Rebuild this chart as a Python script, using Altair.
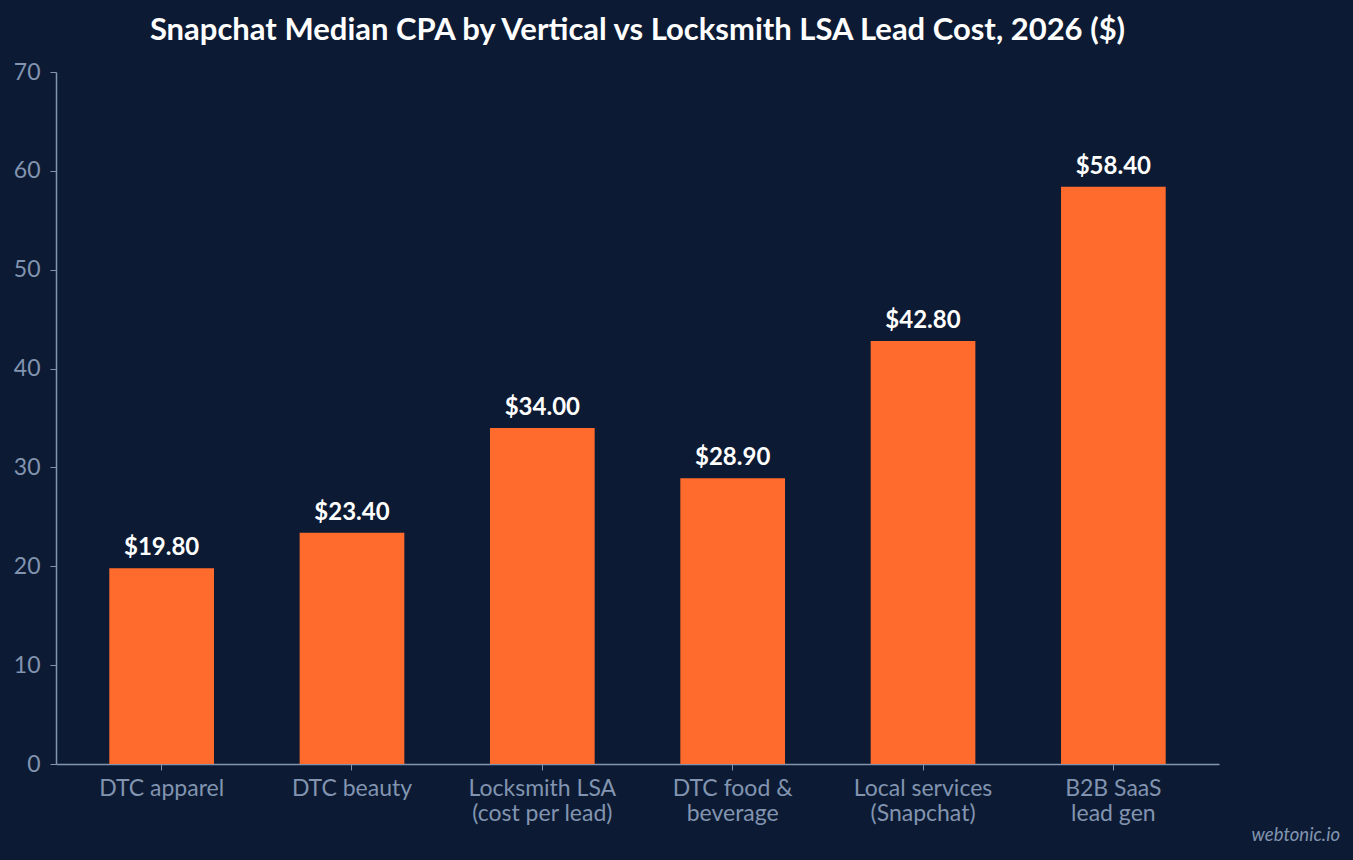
import altair as alt
import pandas as pd

categories = ["DTC apparel", "DTC beauty", "Locksmith LSA|(cost per lead)",
              "DTC food &|beverage", "Local services|(Snapchat)", "B2B SaaS|lead gen"]
values = [19.80, 23.40, 34.00, 28.90, 42.80, 58.40]

df = pd.DataFrame({"category": categories, "value": values})
df["label"] = df["value"].map(lambda v: f"${v:.2f}")

BG = "#0c1b33"
BAR = "#ff6b2c"
AX = "#8294b0"
FONT = "Lato"

base = alt.Chart(df)

x = alt.X("category:N", sort=categories, title=None,
          scale=alt.Scale(paddingInner=0.45, paddingOuter=0.28),
          axis=alt.Axis(labelAngle=0, labelExpr="split(datum.label, '|')",
                        labelFontSize=23, labelColor=AX, labelFont=FONT,
                        labelPadding=7, labelLineHeight=25,
                        domainColor=AX, tickColor=AX, tickSize=6, domainWidth=1.5))
y = alt.Y("value:Q", title=None,
          scale=alt.Scale(domain=[0, 70]),
          axis=alt.Axis(values=[0, 10, 20, 30, 40, 50, 60, 70], grid=False,
                        labelFontSize=23, labelColor=AX, labelFont=FONT,
                        labelPadding=10, domainColor=AX, tickColor=AX,
                        tickSize=6, domainWidth=1.5))

bars = base.mark_bar(color=BAR).encode(x=x, y=y)
labels = base.mark_text(color="white", font=FONT, fontSize=24, fontWeight="bold",
                        baseline="bottom", dy=-8).encode(
    x=alt.X("category:N", sort=categories), y="value:Q", text="label:N")

wm = alt.Chart(pd.DataFrame({"t": ["webtonic.io"]})).mark_text(
    color=AX, font=FONT, fontSize=18.5, fontStyle="italic", align="right",
    baseline="middle").encode(x=alt.value(1284), y=alt.value(763), text="t:N")

chart = alt.layer(bars, labels, wm).properties(
    width=1163, height=692,
    title=alt.TitleParams("Snapchat Median CPA by Vertical vs Locksmith LSA Lead Cost, 2026 ($)",
                          font=FONT, fontSize=31, fontWeight="bold", color="white",
                          anchor="middle", frame="group", offset=14),
    autosize=alt.AutoSizeParams(type="none"),
    padding={"left": 56, "top": 72, "right": 134, "bottom": 96},
    background=BG,
).configure_view(stroke=None)

chart.save("out.html", embed_options={"renderer": "svg", "actions": False})
